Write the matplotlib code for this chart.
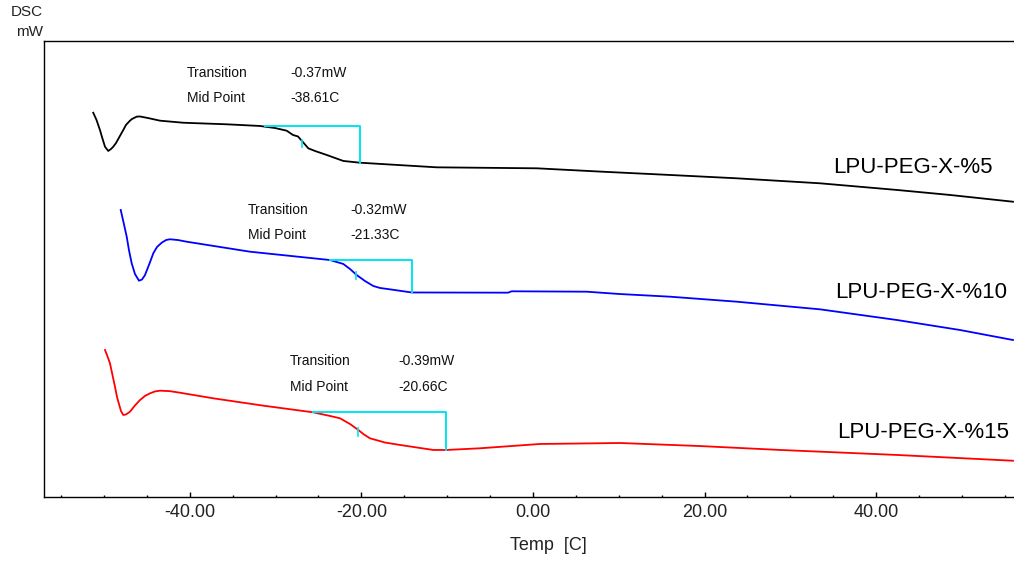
import numpy as np
import matplotlib
matplotlib.use('Agg')
import matplotlib.pyplot as plt
import matplotlib.ticker as mticker
from matplotlib import rcParams

rcParams['font.family'] = ['Liberation Sans', 'DejaVu Sans']

## DSC traces, temperature [C] vs heat flow [mW] (offset per sample)
temp_5 = [-51.25, -50.87, -50.47, -50.23, -49.88, -49.50, -49.18, -48.92, -48.60, -48.14,
          -47.75, -47.44, -46.97, -46.74, -46.19, -45.82, -44.87, -43.47, -40.76, -35.70,
          -31.82, -30.07, -28.71, -27.97, -27.39, -26.96, -26.57, -26.19, -25.41, -24.04,
          -22.11, -20.16, -19.00, -11.22, 0.43, 8.16, 15.97, 23.74, 33.45, 42.42,
          48.6, 55.94]
dsc_5 = [3.921, 3.847, 3.745, 3.673, 3.574, 3.531, 3.551, 3.574, 3.612, 3.684,
         3.745, 3.796, 3.840, 3.857, 3.881, 3.883, 3.867, 3.840, 3.819, 3.803,
         3.786, 3.765, 3.738, 3.694, 3.679, 3.636, 3.597, 3.558, 3.531, 3.490,
         3.429, 3.411, 3.405, 3.364, 3.354, 3.319, 3.286, 3.252, 3.201, 3.133,
         3.082, 3.013]

temp_10 = [-48.05, -47.73, -47.35, -47.09, -46.77, -46.39, -45.92, -45.57, -45.22, -44.76,
           -44.25, -43.82, -43.27, -42.77, -42.31, -41.37, -40.36, -32.98, -23.66, -22.11,
           -21.33, -20.55, -19.58, -18.61, -17.83, -16.67, -14.14, -2.91, -2.48, 6.26,
           10.14, 15.97, 23.74, 33.45, 42.42, 49.77, 55.94]
dsc_10 = [2.929, 2.806, 2.656, 2.520, 2.385, 2.276, 2.207, 2.219, 2.265, 2.367,
          2.487, 2.551, 2.595, 2.622, 2.630, 2.622, 2.605, 2.503, 2.418, 2.378,
          2.327, 2.265, 2.204, 2.153, 2.133, 2.119, 2.087, 2.085, 2.099, 2.095,
          2.071, 2.044, 1.993, 1.915, 1.806, 1.704, 1.602]

temp_15 = [-49.88, -49.65, -49.30, -49.01, -48.72, -48.48, -48.22, -48.02, -47.75, -47.44,
           -46.97, -46.39, -45.80, -45.22, -44.64, -44.06, -43.47, -42.31, -41.14, -37.26,
           -31.43, -25.61, -23.66, -22.49, -21.33, -20.36, -19.70, -19.00, -17.25, -15.50,
           -11.62, -10.06, -6.18, 0.82, 10.14, 19.46, 28.79, 42.42, 55.94]
dsc_15 = [1.500, 1.449, 1.364, 1.245, 1.126, 1.020, 0.939, 0.878, 0.837, 0.842,
          0.870, 0.934, 0.990, 1.031, 1.058, 1.077, 1.085, 1.080, 1.064, 1.007,
          0.932, 0.864, 0.827, 0.803, 0.745, 0.684, 0.638, 0.599, 0.556, 0.531,
          0.480, 0.480, 0.497, 0.541, 0.551, 0.520, 0.480, 0.429, 0.370]

# glass transition analysis: onset temp, end temp, upper level, lower level, mid temp, mid tick range
step_5 = dict(t0=-31.2, t1=-20.16, top=3.786, bot=3.411, tm=-26.92, m=(3.643, 3.571))
step_10 = dict(t0=-23.66, t1=-14.10, top=2.418, bot=2.087, tm=-20.63, m=(2.296, 2.224))
step_15 = dict(t0=-25.64, t1=-10.14, top=0.867, bot=0.480, tm=-20.40, m=(0.704, 0.622))

names = ['LPU-PEG-X-%5', 'LPU-PEG-X-%10', 'LPU-PEG-X-%15']
transition = ['-0.37mW', '-0.32mW', '-0.39mW']
midpoint = ['-38.61C', '-21.33C', '-20.66C']

fig = plt.figure(figsize=(10.14, 5.64), dpi=100)
ax = fig.add_axes([44/1014, 1-497/564, 970/1014, 456/564])
ax.set_xlim(-56.99, 56.06)
ax.set_ylim(0, 4.653)

curves = [(temp_5, dsc_5, 'black'), (temp_10, dsc_10, '#0000ff'), (temp_15, dsc_15, '#ff0000')]
for t, d, c in curves:
    ax.plot(t, d, color=c, lw=1.3)

for s in [step_5, step_10, step_15]:
    ax.plot([s['t0'], s['t1'], s['t1']], [s['top'], s['top'], s['bot']], color='#00e5ee', lw=1.4)
    ax.plot([s['tm'], s['tm']], list(s['m']), color='#00e5ee', lw=1.2)

# annotation text (label x, value x, row1 y, row2 y)
ann_pos = [(-40.3, -28.3, 4.327, 4.071),
           (-33.2, -21.3, 2.929, 2.673),
           (-28.3, -15.7, 1.388, 1.122)]
for (lx, vx, y1, y2), tr, mp in zip(ann_pos, transition, midpoint):
    ax.text(lx, y1, 'Transition', fontsize=10, va='center', ha='left', color='#111111')
    ax.text(vx, y1, tr, fontsize=10, va='center', ha='left', color='#111111')
    ax.text(lx, y2, 'Mid Point', fontsize=10, va='center', ha='left', color='#111111')
    ax.text(vx, y2, mp, fontsize=10, va='center', ha='left', color='#111111')

name_pos = [(34.96, 3.367), (35.2, 2.082), (35.4, 0.663)]
for (x, y), n in zip(name_pos, names):
    ax.text(x, y, n, fontsize=16, va='center', ha='left', color='black')

ax.spines['right'].set_visible(False)
for sp in ['left', 'top', 'bottom']:
    ax.spines[sp].set_linewidth(1.0)
ax.set_yticks([])
ax.xaxis.set_major_locator(mticker.MultipleLocator(20))
ax.xaxis.set_minor_locator(mticker.MultipleLocator(5))
ax.xaxis.set_major_formatter(mticker.FuncFormatter(lambda v, p: '%.2f' % v if v >= 0 else '-%.2f' % abs(v)))
ax.tick_params(axis='x', which='major', direction='in', length=3.3, width=1, labelsize=13, pad=5, labelcolor='#222222')
ax.tick_params(axis='x', which='minor', direction='in', length=1.7, width=1)

fig.text(548/1014, 1-545/564, 'Temp  [C]', fontsize=13, ha='center', va='center', color='#222222')
fig.text(43/1014, 1-12.5/564, 'DSC', fontsize=11, ha='right', va='center', color='#222222')
fig.text(43/1014, 1-32.5/564, 'mW', fontsize=11, ha='right', va='center', color='#222222')

fig.savefig('out.png', dpi=100)
